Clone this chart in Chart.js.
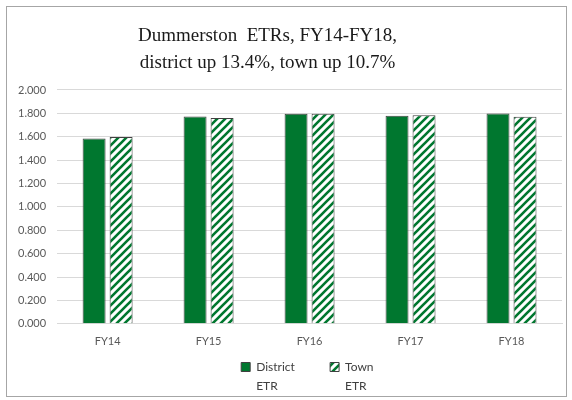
<!DOCTYPE html>
<html><head><meta charset="utf-8">
<script src="https://cdn.jsdelivr.net/npm/chart.js@4/dist/chart.umd.min.js"></script>
<style>html,body{margin:0;padding:0;background:#fff}#wrap{width:572px;height:400px}</style>
</head><body><div id="wrap"><canvas id="c" width="572" height="400"></canvas></div>
<script>
const categories = ['FY14','FY15','FY16','FY17','FY18'];
const districtETR = [1.585, 1.773, 1.796, 1.780, 1.799];
const townETR = [1.597, 1.760, 1.796, 1.783, 1.770];
const yTicks = [0,0.2,0.4,0.6,0.8,1.0,1.2,1.4,1.6,1.8,2.0];

const GREEN = '#00772f';
function makeStripe(){
  const s = 8;
  const p = document.createElement('canvas');
  p.width = s; p.height = s;
  const g = p.getContext('2d');
  g.fillStyle = '#fff'; g.fillRect(0,0,s,s);
  g.strokeStyle = GREEN; g.lineWidth = 2.6;
  g.beginPath();
  g.moveTo(-1, s+1); g.lineTo(s+1, -1);
  g.moveTo(-1-s, s+1); g.lineTo(1, -1);
  g.moveTo(s-1, s+1); g.lineTo(2*s+1, -1);
  g.stroke();
  return document.getElementById('c').getContext('2d').createPattern(p,'repeat');
}
const stripe = makeStripe();

const frame = {
  id:'frame',
  afterLayout(chart){
    if (chart.legend){
      chart.legend.left += 35; chart.legend.right += 35;
      chart.legend.bottom = chart.height; chart.legend.height = chart.legend.bottom - chart.legend.top;
    }
    if (chart.titleBlock){ chart.titleBlock.left -= 17; chart.titleBlock.right -= 17; }
  },
  beforeDraw(chart){
    const ctx = chart.ctx;
    ctx.save();
    ctx.fillStyle='#fff'; ctx.fillRect(0,0,chart.width,chart.height);
    ctx.strokeStyle='#a6a6a6'; ctx.lineWidth=1;
    ctx.strokeRect(6.5,6.5,560,390);
    ctx.restore();
  }
};

new Chart(document.getElementById('c'), {
  type:'bar',
  data:{
    labels: categories,
    datasets:[
      {label:['District','ETR'], data:districtETR, backgroundColor:GREEN, borderColor:'#404040', borderWidth:1},
      {label:['Town','ETR'], data:townETR, backgroundColor:stripe, borderColor:'#404040', borderWidth:1}
    ]
  },
  plugins:[frame],
  options:{
    responsive:false, animation:false,
    layout:{padding:{left:7, right:10, top:6, bottom:17}},
    datasets:{bar:{categoryPercentage:0.535, barPercentage:0.85}},
    plugins:{
      tooltip:{enabled:false},
      title:{display:true, text:['Dummerston  ETRs, FY14-FY18,','district up 13.4%, town up 10.7%'],
        color:'#1a1a1a', font:{family:'Liberation Serif', size:19, weight:'normal', lineHeight:1.42},
        padding:{top:17, bottom:13}},
      legend:{position:'bottom', labels:{boxWidth:9, boxHeight:9, color:'#404040', padding:11,
        font:{family:'Lato', size:12, lineHeight:1.6}}}
    },
    scales:{
      x:{grid:{display:false}, border:{color:'#d9d9d9'},
        afterFit(s){ s.height -= 1; },
        ticks:{color:'#595959', font:{family:'Lato', size:11}, padding:3}},
      y:{min:0, max:2, border:{display:false},
        afterBuildTicks(ax){ ax.ticks = yTicks.map(v=>({value:v})); },
        grid:{color:'#d9d9d9', drawTicks:false},
        ticks:{color:'#595959', font:{family:'Lato', size:11}, padding:11,
          callback:v=>Number(v).toFixed(3)}}
    }
  }
});
</script></body></html>
